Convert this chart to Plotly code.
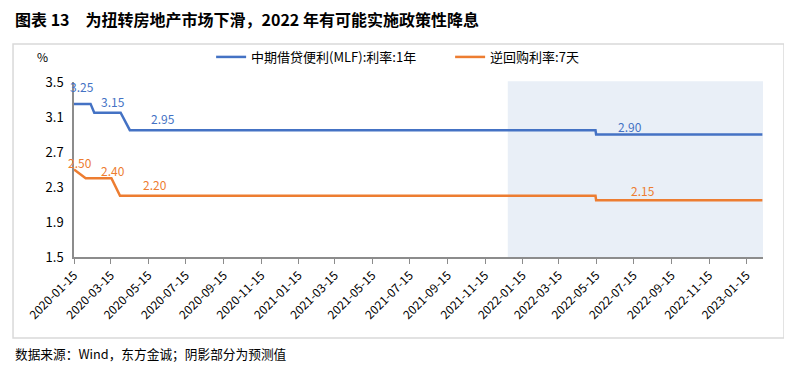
import plotly.graph_objects as go

# ---- data ----
mlf_dates = ["2020-01-15", "2020-02-11", "2020-02-17", "2020-03-31", "2020-04-15",
             "2022-05-14", "2022-05-15", "2023-02-10"]
mlf_vals = [3.25, 3.25, 3.15, 3.15, 2.95, 2.95, 2.90, 2.90]

rr_dates = ["2020-01-15", "2020-02-03", "2020-03-16", "2020-03-30",
            "2022-05-14", "2022-05-15", "2023-02-10"]
rr_vals = [2.50, 2.40, 2.40, 2.20, 2.20, 2.15, 2.15]

mlf_label_dates = ["2020-01-28", "2020-03-19", "2020-06-08", "2022-07-09"]
mlf_label_vals = [3.25, 3.15, 2.95, 2.90]
rr_label_dates = ["2020-01-25", "2020-03-19", "2020-05-26", "2022-07-31"]
rr_label_vals = [2.50, 2.40, 2.20, 2.15]

tick_vals = ["2020-01-15", "2020-03-15", "2020-05-15", "2020-07-15", "2020-09-15", "2020-11-15",
             "2021-01-15", "2021-03-15", "2021-05-15", "2021-07-15", "2021-09-15", "2021-11-15",
             "2022-01-15", "2022-03-15", "2022-05-15", "2022-07-15", "2022-09-15", "2022-11-15",
             "2023-01-15"]
forecast_start = "2021-12-22"
x_end = "2023-02-11"

names = ["中期借贷便利(MLF):利率:1年", "逆回购利率:7天"]
title = "图表 13\u3000为扭转房地产市场下滑，2022 年有可能实施政策性降息"
source = "数据来源：Wind，东方金诚；阴影部分为预测值"

BLUE = "#4472C4"
ORANGE = "#ED7D31"
FONT = "Noto Sans CJK SC"

fig = go.Figure()
fig.add_trace(go.Scatter(x=mlf_dates, y=mlf_vals, mode="lines", name=names[0],
                         line=dict(color=BLUE, width=2.5)))
fig.add_trace(go.Scatter(x=rr_dates, y=rr_vals, mode="lines", name=names[1],
                         line=dict(color=ORANGE, width=2.5)))

ann = []
mlf_shift = [17, 11, 12, 8]
rr_shift = [7, 8, 11, 10]
for d, v, s in zip(mlf_label_dates, mlf_label_vals, mlf_shift):
    ann.append(dict(x=d, y=v, xref="x", yref="y", text=f"{v:.2f}", showarrow=False,
                    yshift=s, yanchor="middle", font=dict(color=BLUE, size=12, family=FONT)))
for d, v, s in zip(rr_label_dates, rr_label_vals, rr_shift):
    ann.append(dict(x=d, y=v, xref="x", yref="y", text=f"{v:.2f}", showarrow=False,
                    yshift=s, yanchor="middle", font=dict(color=ORANGE, size=12, family=FONT)))

ann.append(dict(x=-0.0885, y=1.36, xref="paper", yref="paper", text=f"<b>{title}</b>",
                showarrow=False, xanchor="left", yanchor="middle",
                font=dict(size=16, color="#000", family=FONT)))
ann.append(dict(x=-0.0885, y=-0.549, xref="paper", yref="paper", text=source,
                showarrow=False, xanchor="left", yanchor="middle",
                font=dict(size=12.7, color="#000", family=FONT)))
ann.append(dict(x=-0.046, y=1.146, xref="paper", yref="paper", text="%",
                showarrow=False, xanchor="center", yanchor="middle",
                font=dict(size=12, color="#000", family=FONT)))

shapes = [
    dict(type="rect", xref="x", yref="paper", x0=forecast_start, x1=x_end, y0=-0.012, y1=1.005,
         fillcolor="#E9EFF7", line=dict(width=0), layer="below"),
    dict(type="rect", xref="paper", yref="paper", x0=-0.0885, x1=1.0305, y0=-0.463, y1=1.217,
         fillcolor="rgba(0,0,0,0)", line=dict(color="#D9D9D9", width=1.5), layer="below"),
]

fig.update_layout(
    width=784, height=358,
    margin=dict(l=66, r=29, t=74, b=109),
    paper_bgcolor="white", plot_bgcolor="white",
    font=dict(family=FONT, color="#000"),
    showlegend=True,
    legend=dict(orientation="h", x=0.199, y=1.143, xanchor="left", yanchor="middle",
                font=dict(size=13, family=FONT), entrywidth=194, entrywidthmode="pixels",
                bgcolor="rgba(0,0,0,0)"),
    annotations=ann,
    shapes=shapes,
    xaxis=dict(type="date", range=["2020-01-15", x_end], tickvals=tick_vals, ticktext=tick_vals,
               tickangle=-45, tickfont=dict(size=12, family=FONT), showgrid=False,
               showline=True, linecolor="#8C8C8C", linewidth=1.5, ticks="outside", ticklen=5,
               tickcolor="#8C8C8C", zeroline=False, automargin=False),
    yaxis=dict(range=[1.5, 3.5], tickvals=[1.5, 1.9, 2.3, 2.7, 3.1, 3.5],
               ticktext=["1.5", "1.9", "2.3", "2.7", "3.1", "3.5"],
               tickfont=dict(size=13, family=FONT), showgrid=False, showline=True,
               linecolor="#8C8C8C", linewidth=1.5, ticks="", ticklabelstandoff=6, zeroline=False,
               automargin=False),
)

fig.write_html("out.html")
